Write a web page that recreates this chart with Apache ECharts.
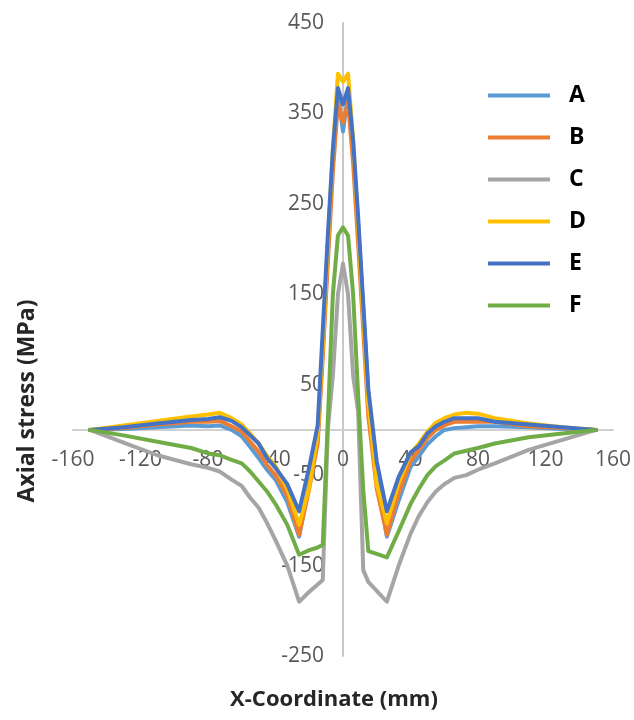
<!DOCTYPE html>
<html>
<head>
<meta charset="utf-8">
<script src="https://cdn.jsdelivr.net/npm/echarts@6/dist/echarts.min.js"></script>
<style>
html,body{margin:0;padding:0;background:#fff;}
#chart{width:634px;height:720px;}
</style>
</head>
<body>
<div id="chart"></div>
<script>
// X coordinates (mm) shared by all series
const xCoord = [-150,-130,-110,-90,-80,-73,-66,-60,-55,-50,-45,-40,-33,-26,-20,-15,-12,-9,-6,-3,0,
                3,6,9,12,15,20,26,33,40,45,50,55,60,66,73,80,90,110,130,150];
// Axial stress (MPa)
const seriesA = [0,1,3,5,4,5,0,-7,-19,-31,-44,-55,-80,-118,-60,-10,90,195,295,372,330,
                 372,310,225,135,40,-50,-118,-78,-41,-29,-16,-7,0,2,3,4,4,3,1,0];
const seriesB = [0,2,6,9,9,10,4,-2,-13,-24,-39,-50,-73,-116,-65,-15,80,185,285,362,340,
                 362,295,205,110,15,-65,-116,-70,-35,-22,-9,0,5,9,9,9,9,4,2,0];
const seriesC = [0,-14,-28,-38,-42,-46,-55,-62,-75,-86,-103,-122,-150,-190,-179,-171,-166,0,60,150,184,
                 150,60,20,-155,-168,-178,-190,-150,-115,-95,-80,-68,-60,-53,-50,-44,-37,-22,-11,0];
const seriesD = [0,5,10,15,17,19,13,6,-4,-15,-29,-40,-65,-105,-63,-5,95,205,310,394,385,
                 394,320,225,125,30,-60,-103,-59,-26,-15,-2,8,13,17,19,18,13,7,3,0];
const seriesE = [0,3,7,11,12,14,10,3,-6,-15,-31,-42,-60,-90,-41,5,110,215,310,378,360,
                 378,320,235,140,45,-35,-90,-52,-25,-18,-4,4,9,13,13,13,9,6,3,0];
const seriesF = [0,-6,-13,-20,-26,-28,-33,-37,-46,-57,-68,-82,-105,-138,-133,-130,-127,10,150,215,224,
                 215,150,37,-66,-134,-137,-141,-112,-82,-65,-50,-40,-34,-26,-23,-20,-15,-8,-4,0];

const seriesNames = ['A','B','C','D','E','F'];
const seriesValues = [seriesA, seriesB, seriesC, seriesD, seriesE, seriesF];
const seriesColors = ['#5B9BD5','#ED7D31','#A5A5A5','#FFC000','#4472C4','#70AD47'];

const xMin = -160, xMax = 160, xStep = 40;
const yMin = -250, yMax = 450, yStep = 100;

const W = 634, H = 720;
const gridL = 73, gridR = 21, gridT = 23, gridB = 64;
const gridW = W - gridL - gridR, gridH = H - gridT - gridB;
// place both axes (line + labels) through the origin
const xAxisOffset = -gridH * (0 - yMin) / (yMax - yMin);
const yAxisOffset = -gridW * (0 - xMin) / (xMax - xMin);

const chart = echarts.init(document.getElementById('chart'), null, {renderer:'canvas'});
const labelFont = 'Open Sans';

const option = {
  backgroundColor: '#ffffff',
  animation: false,
  grid: {left: gridL, right: gridR, top: gridT, bottom: gridB, containLabel: false},
  xAxis: {
    type: 'value', min: xMin, max: xMax, interval: xStep,
    position: 'bottom', offset: xAxisOffset,
    axisLine: {onZero: false, lineStyle: {color: '#D0D0D0', width: 2}},
    axisTick: {show: false},
    splitLine: {show: false},
    axisLabel: {margin: 20, color: '#595959', fontSize: 21, fontFamily: labelFont}
  },
  yAxis: {
    type: 'value', min: yMin, max: yMax, interval: yStep,
    position: 'left', offset: yAxisOffset,
    axisLine: {show: true, onZero: false, lineStyle: {color: '#C8C8C8', width: 2}},
    axisTick: {show: false},
    splitLine: {show: false},
    axisLabel: {margin: 19, color: '#595959', fontSize: 21, fontFamily: labelFont}
  },
  legend: {
    orient: 'vertical', left: 488, top: 83, padding: 0,
    itemWidth: 62, itemHeight: 4, itemGap: 17, icon: 'rect',
    textStyle: {fontSize: 23, fontWeight: 'bold', color: '#000', fontFamily: labelFont,
                lineHeight: 25, padding: [0,0,0,14]},
    data: seriesNames
  },
  graphic: [
    {type: 'text', x: 27, y: 401, rotation: Math.PI/2,
     style: {text: 'Axial stress (MPa)', align: 'center', verticalAlign: 'middle',
             font: 'bold 23px "Open Sans"', fill: '#262626'}},
    {type: 'text', x: 334, y: 700,
     style: {text: 'X-Coordinate (mm)', align: 'center', verticalAlign: 'middle',
             font: 'bold 22px "Open Sans"', fill: '#262626'}}
  ],
  series: seriesNames.map((n, i) => ({
    name: n, type: 'line', showSymbol: false, symbol: 'none',
    lineStyle: {width: 4, color: seriesColors[i], join: 'round', cap: 'round'},
    itemStyle: {color: seriesColors[i]},
    data: xCoord.map((x, j) => [x, seriesValues[i][j]])
  }))
};
chart.setOption(option);
</script>
</body>
</html>
